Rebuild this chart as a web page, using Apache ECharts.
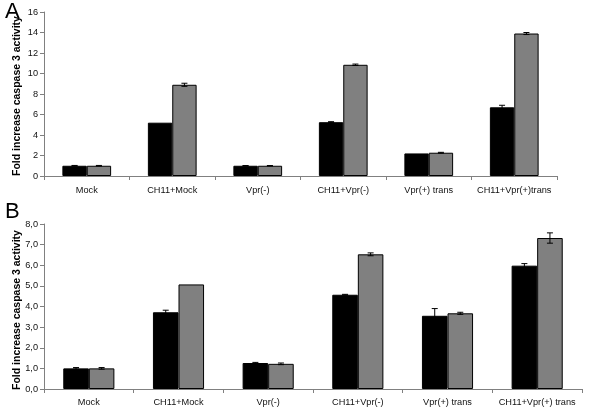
<!DOCTYPE html>
<html><head><meta charset="utf-8">
<script src="https://cdn.jsdelivr.net/npm/echarts@6/dist/echarts.min.js"></script>
<style>html,body{margin:0;padding:0;background:#fff}#c{width:608px;height:408px}</style>
</head><body><div id="c"></div>
<script>
const categoriesA = ['Mock','CH11+Mock','Vpr(-)','CH11+Vpr(-)','Vpr(+) trans','CH11+Vpr(+)trans'];
const categoriesB = ['Mock','CH11+Mock','Vpr(-)','CH11+Vpr(-)','Vpr(+) trans','CH11+Vpr(+) trans'];
const valuesA1 = [1.0, 5.2, 1.0, 5.25, 2.2, 6.7];
const valuesA2 = [1.0, 8.9, 1.0, 10.85, 2.27, 13.9];
const errA1 = [0.03, 0.0, 0.02, 0.05, 0.0, 0.2];
const errA2 = [0.03, 0.15, 0.02, 0.07, 0.04, 0.1];
const valuesB1 = [1.0, 3.72, 1.26, 4.57, 3.55, 5.98];
const valuesB2 = [1.0, 5.07, 1.22, 6.53, 3.67, 7.32];
const errB1 = [0.04, 0.1, 0.03, 0.02, 0.35, 0.1];
const errB2 = [0.04, 0.0, 0.04, 0.07, 0.05, 0.25];
const ticksA = {min:0, max:16, interval:2};
const ticksB = {min:0, max:8, interval:1};

const BW = 0.285;
const yName = 'Fold increase caspase 3 activity';
const font = 'Liberation Sans, Arial, sans-serif';

function errSeries(vals, errs, idx, side) {
  return {
    type: 'custom', xAxisIndex: idx, yAxisIndex: idx, z: 10,
    data: vals.map((v, i) => [i, v, errs[i]]),
    renderItem: function (params, api) {
      const i = api.value(0), v = api.value(1), e = api.value(2);
      if (!e) return null;
      const band = api.size([1, 0])[0];
      const c = api.coord([i, v]);
      const x = c[0] + side * band * BW / 2;
      const top = api.coord([i, v + e])[1];
      const bot = api.coord([i, v - e])[1];
      const hw = 3;
      const st = {stroke: '#000', lineWidth: 1};
      return {type: 'group', children: [
        {type: 'line', shape: {x1: x, y1: top, x2: x, y2: bot}, style: st},
        {type: 'line', shape: {x1: x - hw, y1: top, x2: x + hw, y2: top}, style: st},
        {type: 'line', shape: {x1: x - hw, y1: bot, x2: x + hw, y2: bot}, style: st}
      ]};
    }
  };
}

function barSeries(vals, idx, color) {
  return {
    type: 'bar', xAxisIndex: idx, yAxisIndex: idx, data: vals,
    barWidth: (BW * 100) + '%', barGap: '0%',
    itemStyle: {color: color, borderColor: '#000', borderWidth: 1},
    emphasis: {disabled: true}
  };
}

const xAxisCommon = {
  type: 'category',
  axisLine: {lineStyle: {color: '#808080', width: 1}},
  axisTick: {show: true, length: 4, lineStyle: {color: '#808080'}},
  axisLabel: {color: '#111', fontSize: 9.2, fontFamily: font, margin: 10, interval: 0}
};
const yAxisCommon = {
  type: 'value',
  axisLine: {show: true, lineStyle: {color: '#808080', width: 1}},
  axisTick: {show: true, length: 4, lineStyle: {color: '#808080'}},
  splitLine: {show: false}
};

function yTitle(cy) {
  return {
    type: 'text', x: 17, y: cy, rotation: Math.PI / 2,
    style: {text: yName, fontSize: 10.5, fontWeight: 'bold', fontFamily: font, fill: '#000',
      align: 'center', verticalAlign: 'middle'}
  };
}

const chart = echarts.init(document.getElementById('c'), null, {renderer: 'canvas'});
chart.setOption({
  animation: false,
  backgroundColor: '#fff',
  title: [
    {text: 'A', left: 0, top: -4, textStyle: {fontSize: 22, fontWeight: 'normal', fontFamily: font, color: '#000'}},
    {text: 'B', left: 0, top: 196, textStyle: {fontSize: 22, fontWeight: 'normal', fontFamily: font, color: '#000'}}
  ],
  graphic: [yTitle(96), yTitle(310)],
  grid: [
    {left: 44, right: 51, top: 12, height: 164, outerBoundsMode: 'none', containLabel: false},
    {left: 44, right: 26, top: 224, height: 165, outerBoundsMode: 'none', containLabel: false}
  ],
  xAxis: [
    Object.assign({}, xAxisCommon, {gridIndex: 0, data: categoriesA}),
    Object.assign({}, xAxisCommon, {gridIndex: 1, data: categoriesB, axisLabel: Object.assign({}, xAxisCommon.axisLabel, {margin: 9})})
  ],
  yAxis: [
    Object.assign({}, yAxisCommon, {gridIndex: 0, min: ticksA.min, max: ticksA.max, interval: ticksA.interval,
      axisLabel: {color: '#111', fontSize: 9.2, fontFamily: font, margin: 6}}),
    Object.assign({}, yAxisCommon, {gridIndex: 1, min: ticksB.min, max: ticksB.max, interval: ticksB.interval,
      axisLabel: {color: '#111', fontSize: 9.2, fontFamily: font, margin: 6,
        formatter: v => v.toFixed(1).replace('.', ',')}})
  ],
  series: [
    barSeries(valuesA1, 0, '#000000'),
    barSeries(valuesA2, 0, '#808080'),
    barSeries(valuesB1, 1, '#000000'),
    barSeries(valuesB2, 1, '#808080'),
    errSeries(valuesA1, errA1, 0, -1),
    errSeries(valuesA2, errA2, 0, 1),
    errSeries(valuesB1, errB1, 1, -1),
    errSeries(valuesB2, errB2, 1, 1)
  ]
});
</script></body></html>
